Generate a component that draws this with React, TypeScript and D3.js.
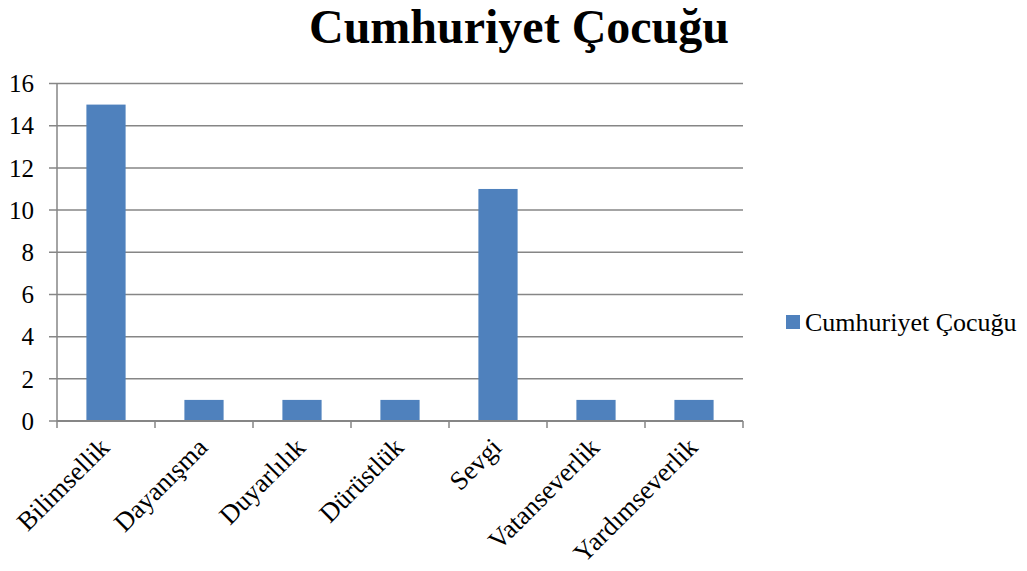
import React from "react";
import * as d3 from "d3";

const categories = ["Bilimsellik", "Dayanışma", "Duyarlılık", "Dürüstlük", "Sevgi", "Vatanseverlik", "Yardımseverlik"];
const values = [15, 1, 1, 1, 11, 1, 1];
const yTicks = [0, 2, 4, 6, 8, 10, 12, 14, 16];
const seriesName = "Cumhuriyet Çocuğu";
const title = "Cumhuriyet Çocuğu";

const W = 1027, H = 571;
const left = 57, right = 743, top = 83.5, bottom = 421;
const font = "'Liberation Serif', 'Times New Roman', serif";
const barColor = "#4F81BD";
const gridColor = "#868686";

export default function App() {
  const x = d3.scaleBand<string>().domain(categories).range([left, right]).paddingInner(0.6).paddingOuter(0.3);
  const xBand = d3.scaleBand<string>().domain(categories).range([left, right]);
  const y = d3.scaleLinear().domain([0, 16]).range([bottom, top]);
  return (
    <svg width={W} height={H} style={{ position: "absolute", left: 0, top: 0 }} fontFamily={font}>
      <rect width={W} height={H} fill="#fff" />
      <text x={519} y={43} textAnchor="middle" fontSize={48} fontWeight="bold" fontFamily={font}>{title}</text>
      {yTicks.map((t) => (
        <g key={t}>
          <line x1={49} x2={right} y1={y(t)} y2={y(t)} stroke={gridColor} strokeWidth={1.5} />
          <text x={34} y={y(t)} dy="0.35em" textAnchor="end" fontSize={25} fontFamily={font}>{t}</text>
        </g>
      ))}
      <line x1={left} x2={left} y1={top} y2={bottom} stroke={gridColor} strokeWidth={1.5} />
      {categories.map((c, i) => (
        <rect key={c} x={x(c)} y={y(values[i])} width={x.bandwidth()} height={bottom - y(values[i])} fill={barColor} />
      ))}
      <line x1={left} x2={right} y1={bottom} y2={bottom} stroke={gridColor} strokeWidth={2} />
      {categories.concat([""]).map((c, i) => {
        const tx = left + i * xBand.bandwidth();
        return <line key={"t" + i} x1={tx} x2={tx} y1={bottom} y2={bottom + 7} stroke={gridColor} strokeWidth={1.5} />;
      })}
      {categories.map((c) => {
        const cx = (xBand(c) as number) + xBand.bandwidth() / 2;
        return (
          <text key={"l" + c} transform={`translate(${cx + 5},${449}) rotate(-45)`} textAnchor="end" fontSize={26.5} fontFamily={font}>{c}</text>
        );
      })}
      <rect x={786} y={315} width={14} height={14} fill={barColor} />
      <text x={805} y={331} fontSize={26} fontFamily={font}>{seriesName}</text>
    </svg>
  );
}
